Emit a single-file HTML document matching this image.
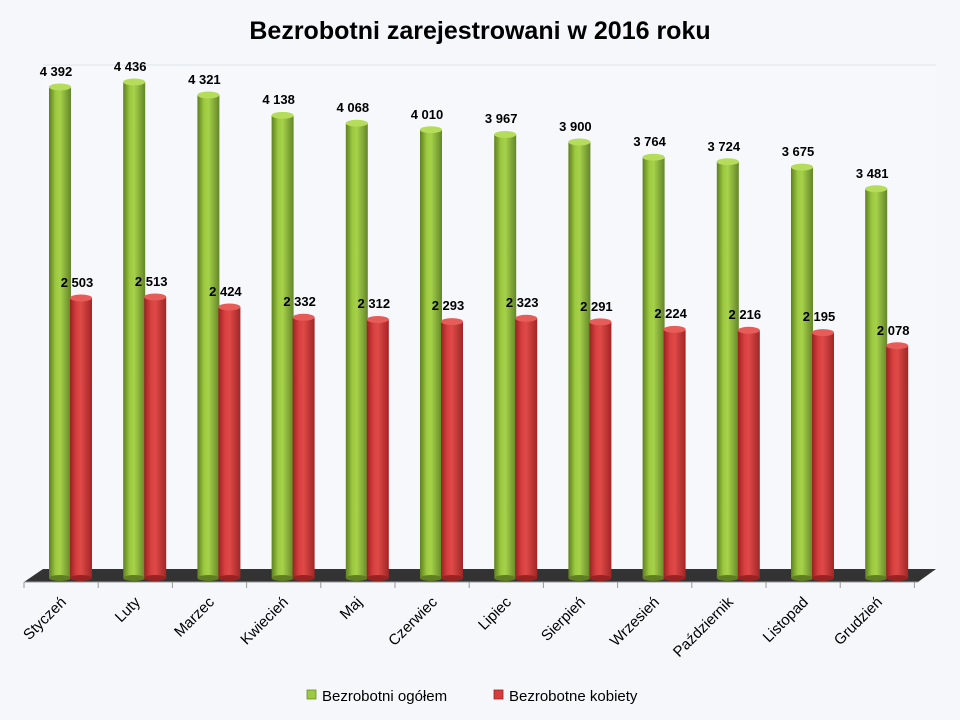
<!DOCTYPE html>
<html><head><meta charset="utf-8"><style>
html,body{margin:0;padding:0;background:#f5f7fb;}
svg{display:block;font-family:"Liberation Sans","DejaVu Sans",sans-serif;}
</style></head><body>
<svg width="960" height="720" viewBox="0 0 960 720" xmlns="http://www.w3.org/2000/svg">
<defs>
<linearGradient id="g" x1="0" x2="1" y1="0" y2="0">
<stop offset="0" stop-color="#5f7f22"/><stop offset="0.3" stop-color="#9cc93f"/><stop offset="0.5" stop-color="#a6d24a"/><stop offset="1" stop-color="#64852a"/>
</linearGradient>
<linearGradient id="r" x1="0" x2="1" y1="0" y2="0">
<stop offset="0" stop-color="#9a2222"/><stop offset="0.3" stop-color="#d94040"/><stop offset="0.5" stop-color="#de4a48"/><stop offset="1" stop-color="#a02626"/>
</linearGradient>
</defs>
<rect width="960" height="720" fill="#f5f7fb"/>
<rect x="43" y="65" width="893" height="505" fill="#f7f8fc"/>
<line x1="43" y1="65" x2="936" y2="65" stroke="#e0e3ea" stroke-width="1"/>
<text x="480" y="39" text-anchor="middle" font-size="25" font-weight="bold" fill="#000">Bezrobotni zarejestrowani w 2016 roku</text>
<polygon points="24,582 43,569 936,569 918,582" fill="#333"/>
<line x1="24" y1="582" x2="918" y2="582" stroke="#999"/>
<g stroke="#999">
<line x1="24" y1="582" x2="24" y2="588"/><line x1="98.2" y1="582" x2="98.2" y2="588"/><line x1="172.4" y1="582" x2="172.4" y2="588"/><line x1="246.6" y1="582" x2="246.6" y2="588"/><line x1="320.8" y1="582" x2="320.8" y2="588"/><line x1="395" y1="582" x2="395" y2="588"/><line x1="469.2" y1="582" x2="469.2" y2="588"/><line x1="543.4" y1="582" x2="543.4" y2="588"/><line x1="617.6" y1="582" x2="617.6" y2="588"/><line x1="691.8" y1="582" x2="691.8" y2="588"/><line x1="766" y1="582" x2="766" y2="588"/><line x1="840.2" y1="582" x2="840.2" y2="588"/><line x1="914.4" y1="582" x2="914.4" y2="588"/>
</g>
<g>
<g><rect x="49" y="87" width="22" height="491" fill="url(#g)"/><ellipse cx="60" cy="578" rx="11" ry="3" fill="#5f7f22"/><ellipse cx="60" cy="87" rx="11" ry="3.5" fill="#b5dc5a"/></g>
<g><rect x="70" y="298" width="22" height="280" fill="url(#r)"/><ellipse cx="81" cy="578" rx="11" ry="3" fill="#9a2222"/><ellipse cx="81" cy="298" rx="11" ry="3.5" fill="#e65c58"/></g>
<g><rect x="123.2" y="82" width="22" height="496" fill="url(#g)"/><ellipse cx="134.2" cy="578" rx="11" ry="3" fill="#5f7f22"/><ellipse cx="134.2" cy="82" rx="11" ry="3.5" fill="#b5dc5a"/></g>
<g><rect x="144.2" y="297" width="22" height="281" fill="url(#r)"/><ellipse cx="155.2" cy="578" rx="11" ry="3" fill="#9a2222"/><ellipse cx="155.2" cy="297" rx="11" ry="3.5" fill="#e65c58"/></g>
<g><rect x="197.4" y="95" width="22" height="483" fill="url(#g)"/><ellipse cx="208.4" cy="578" rx="11" ry="3" fill="#5f7f22"/><ellipse cx="208.4" cy="95" rx="11" ry="3.5" fill="#b5dc5a"/></g>
<g><rect x="218.4" y="307" width="22" height="271" fill="url(#r)"/><ellipse cx="229.4" cy="578" rx="11" ry="3" fill="#9a2222"/><ellipse cx="229.4" cy="307" rx="11" ry="3.5" fill="#e65c58"/></g>
<g><rect x="271.6" y="115.4" width="22" height="462.6" fill="url(#g)"/><ellipse cx="282.6" cy="578" rx="11" ry="3" fill="#5f7f22"/><ellipse cx="282.6" cy="115.4" rx="11" ry="3.5" fill="#b5dc5a"/></g>
<g><rect x="292.6" y="317.3" width="22" height="260.7" fill="url(#r)"/><ellipse cx="303.6" cy="578" rx="11" ry="3" fill="#9a2222"/><ellipse cx="303.6" cy="317.3" rx="11" ry="3.5" fill="#e65c58"/></g>
<g><rect x="345.8" y="123.2" width="22" height="454.8" fill="url(#g)"/><ellipse cx="356.8" cy="578" rx="11" ry="3" fill="#5f7f22"/><ellipse cx="356.8" cy="123.2" rx="11" ry="3.5" fill="#b5dc5a"/></g>
<g><rect x="366.8" y="319.5" width="22" height="258.5" fill="url(#r)"/><ellipse cx="377.8" cy="578" rx="11" ry="3" fill="#9a2222"/><ellipse cx="377.8" cy="319.5" rx="11" ry="3.5" fill="#e65c58"/></g>
<g><rect x="420" y="129.7" width="22" height="448.3" fill="url(#g)"/><ellipse cx="431" cy="578" rx="11" ry="3" fill="#5f7f22"/><ellipse cx="431" cy="129.7" rx="11" ry="3.5" fill="#b5dc5a"/></g>
<g><rect x="441" y="321.6" width="22" height="256.4" fill="url(#r)"/><ellipse cx="452" cy="578" rx="11" ry="3" fill="#9a2222"/><ellipse cx="452" cy="321.6" rx="11" ry="3.5" fill="#e65c58"/></g>
<g><rect x="494.2" y="134.5" width="22" height="443.5" fill="url(#g)"/><ellipse cx="505.2" cy="578" rx="11" ry="3" fill="#5f7f22"/><ellipse cx="505.2" cy="134.5" rx="11" ry="3.5" fill="#b5dc5a"/></g>
<g><rect x="515.2" y="318.3" width="22" height="259.7" fill="url(#r)"/><ellipse cx="526.2" cy="578" rx="11" ry="3" fill="#9a2222"/><ellipse cx="526.2" cy="318.3" rx="11" ry="3.5" fill="#e65c58"/></g>
<g><rect x="568.4" y="142" width="22" height="436" fill="url(#g)"/><ellipse cx="579.4" cy="578" rx="11" ry="3" fill="#5f7f22"/><ellipse cx="579.4" cy="142" rx="11" ry="3.5" fill="#b5dc5a"/></g>
<g><rect x="589.4" y="321.9" width="22" height="256.1" fill="url(#r)"/><ellipse cx="600.4" cy="578" rx="11" ry="3" fill="#9a2222"/><ellipse cx="600.4" cy="321.9" rx="11" ry="3.5" fill="#e65c58"/></g>
<g><rect x="642.6" y="157.2" width="22" height="420.8" fill="url(#g)"/><ellipse cx="653.6" cy="578" rx="11" ry="3" fill="#5f7f22"/><ellipse cx="653.6" cy="157.2" rx="11" ry="3.5" fill="#b5dc5a"/></g>
<g><rect x="663.6" y="329.4" width="22" height="248.6" fill="url(#r)"/><ellipse cx="674.6" cy="578" rx="11" ry="3" fill="#9a2222"/><ellipse cx="674.6" cy="329.4" rx="11" ry="3.5" fill="#e65c58"/></g>
<g><rect x="716.8" y="161.7" width="22" height="416.3" fill="url(#g)"/><ellipse cx="727.8" cy="578" rx="11" ry="3" fill="#5f7f22"/><ellipse cx="727.8" cy="161.7" rx="11" ry="3.5" fill="#b5dc5a"/></g>
<g><rect x="737.8" y="330.3" width="22" height="247.7" fill="url(#r)"/><ellipse cx="748.8" cy="578" rx="11" ry="3" fill="#9a2222"/><ellipse cx="748.8" cy="330.3" rx="11" ry="3.5" fill="#e65c58"/></g>
<g><rect x="791" y="167.1" width="22" height="410.9" fill="url(#g)"/><ellipse cx="802" cy="578" rx="11" ry="3" fill="#5f7f22"/><ellipse cx="802" cy="167.1" rx="11" ry="3.5" fill="#b5dc5a"/></g>
<g><rect x="812" y="332.6" width="22" height="245.4" fill="url(#r)"/><ellipse cx="823" cy="578" rx="11" ry="3" fill="#9a2222"/><ellipse cx="823" cy="332.6" rx="11" ry="3.5" fill="#e65c58"/></g>
<g><rect x="865.2" y="188.8" width="22" height="389.2" fill="url(#g)"/><ellipse cx="876.2" cy="578" rx="11" ry="3" fill="#5f7f22"/><ellipse cx="876.2" cy="188.8" rx="11" ry="3.5" fill="#b5dc5a"/></g>
<g><rect x="886.2" y="345.7" width="22" height="232.3" fill="url(#r)"/><ellipse cx="897.2" cy="578" rx="11" ry="3" fill="#9a2222"/><ellipse cx="897.2" cy="345.7" rx="11" ry="3.5" fill="#e65c58"/></g>
</g>
<g font-size="13" font-weight="bold" text-anchor="middle" fill="#000">
<text x="56" y="76">4 392</text><text x="77" y="287">2 503</text>
<text x="130.2" y="71">4 436</text><text x="151.2" y="286">2 513</text>
<text x="204.4" y="84">4 321</text><text x="225.4" y="296">2 424</text>
<text x="278.6" y="104">4 138</text><text x="299.6" y="306">2 332</text>
<text x="352.8" y="112">4 068</text><text x="373.8" y="308">2 312</text>
<text x="427" y="119">4 010</text><text x="448" y="310">2 293</text>
<text x="501.2" y="123">3 967</text><text x="522.2" y="307">2 323</text>
<text x="575.4" y="131">3 900</text><text x="596.4" y="311">2 291</text>
<text x="649.6" y="146">3 764</text><text x="670.6" y="318">2 224</text>
<text x="723.8" y="151">3 724</text><text x="744.8" y="319">2 216</text>
<text x="798" y="156">3 675</text><text x="819" y="321">2 195</text>
<text x="872.2" y="178">3 481</text><text x="893.2" y="335">2 078</text>
</g>
<g font-size="15" text-anchor="end" fill="#000">
<text transform="translate(67,603) rotate(-45)">Styczeń</text>
<text transform="translate(141,603) rotate(-45)">Luty</text>
<text transform="translate(215,603) rotate(-45)">Marzec</text>
<text transform="translate(289,603) rotate(-45)">Kwiecień</text>
<text transform="translate(363,603) rotate(-45)">Maj</text>
<text transform="translate(438,603) rotate(-45)">Czerwiec</text>
<text transform="translate(512,603) rotate(-45)">Lipiec</text>
<text transform="translate(586,603) rotate(-45)">Sierpień</text>
<text transform="translate(660,603) rotate(-45)">Wrzesień</text>
<text transform="translate(734,603) rotate(-45)">Październik</text>
<text transform="translate(809,603) rotate(-45)">Listopad</text>
<text transform="translate(883,603) rotate(-45)">Grudzień</text>
</g>
<rect x="307" y="690" width="9" height="9" fill="#9cc93f" stroke="#6a8c2a" stroke-width="0.8"/>
<text x="322" y="701" font-size="15" fill="#000">Bezrobotni ogółem</text>
<rect x="494" y="690" width="9" height="9" fill="#d63c3c" stroke="#9a2222" stroke-width="0.8"/>
<text x="509" y="701" font-size="15" fill="#000">Bezrobotne kobiety</text>
</svg>
</body></html>
